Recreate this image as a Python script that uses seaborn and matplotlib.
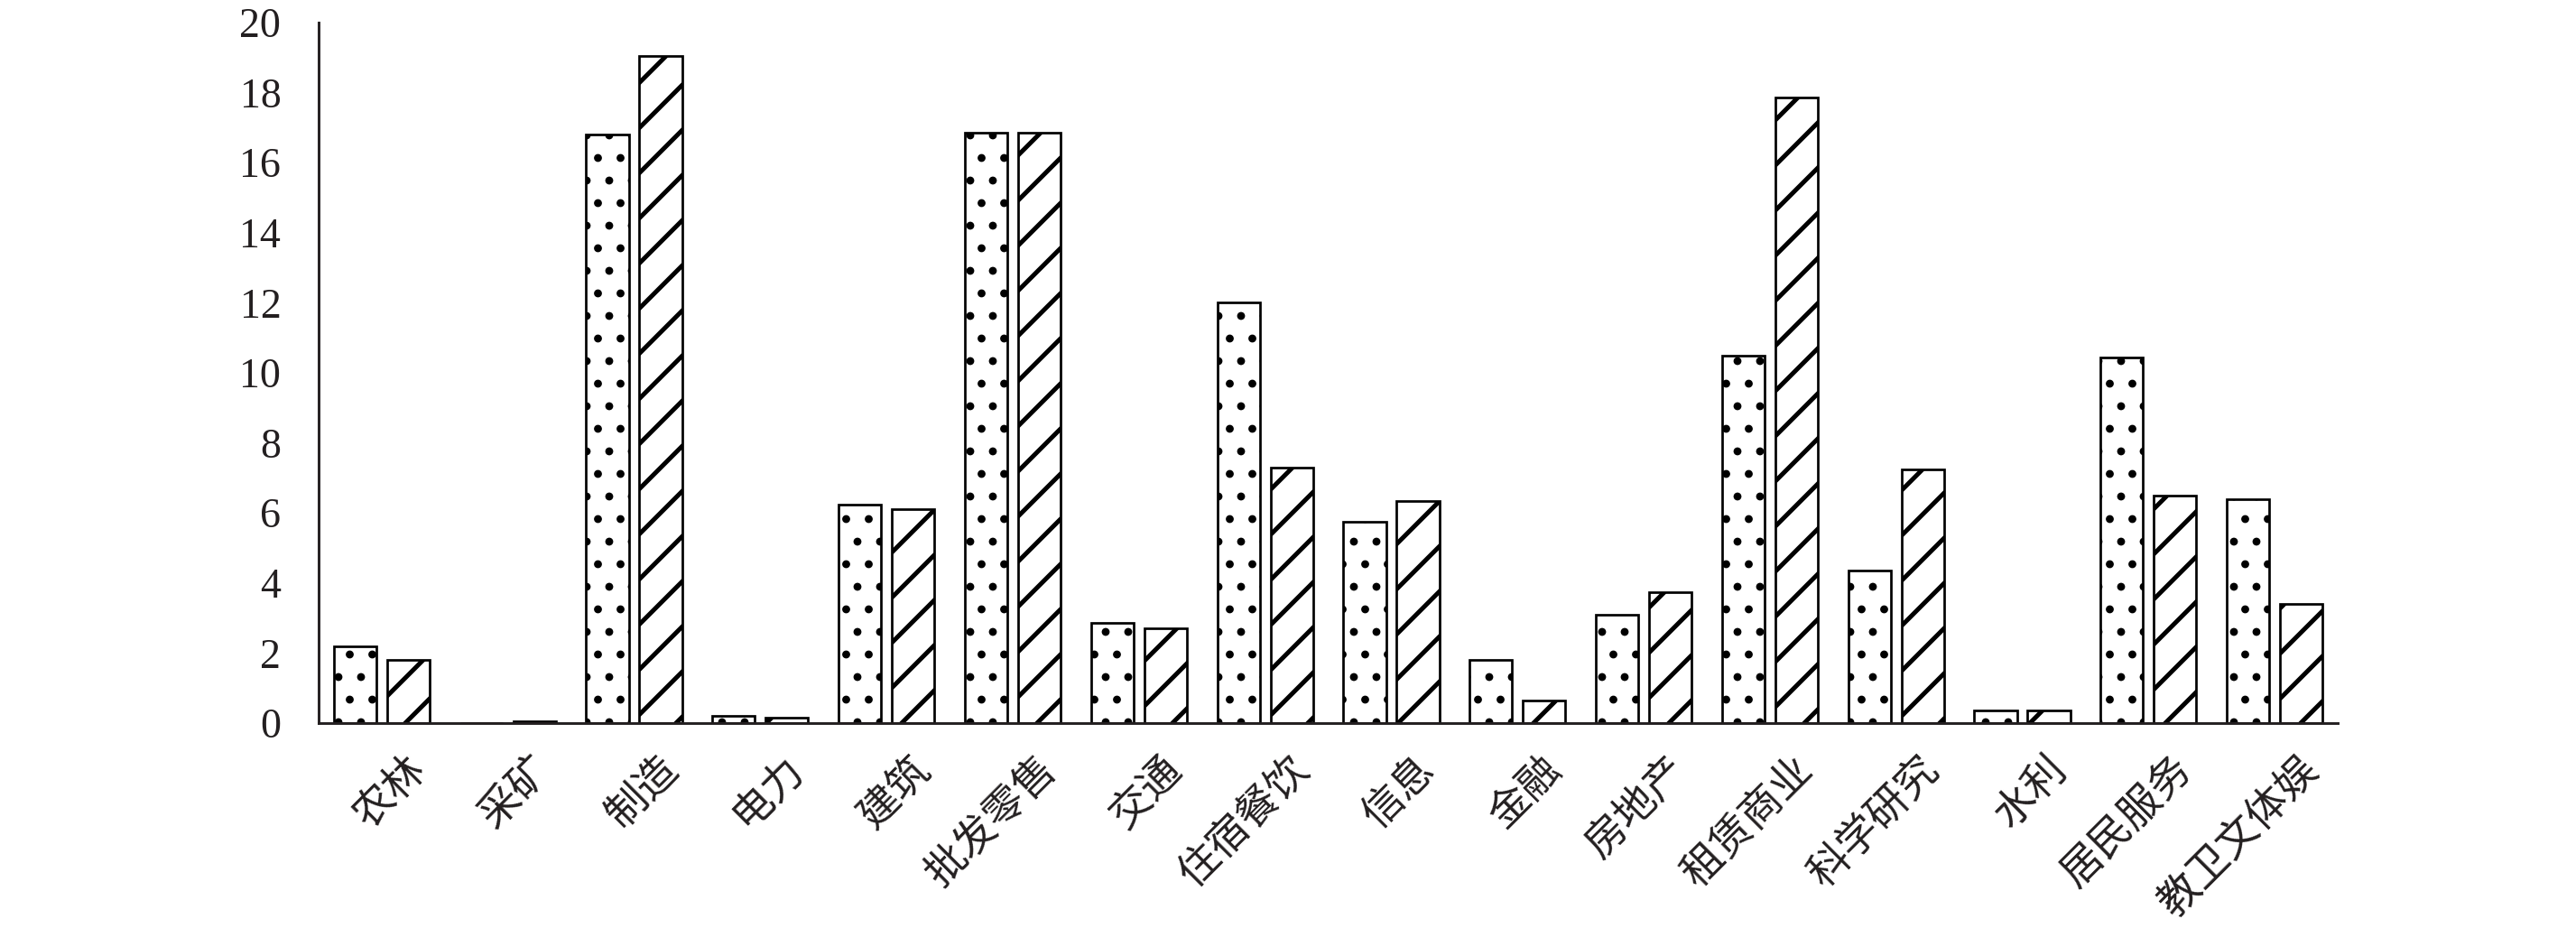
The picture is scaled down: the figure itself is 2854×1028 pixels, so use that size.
import numpy as np
import pandas as pd
import matplotlib
matplotlib.use('Agg')
import matplotlib.pyplot as plt
import matplotlib.transforms as mtransforms
import seaborn as sns

# Data
industries = ['农林', '采矿', '制造', '电力', '建筑', '批发零售', '交通', '住宿餐饮',
              '信息', '金融', '房地产', '租赁商业', '科学研究', '水利', '居民服务', '教卫文体娱']
series_a = [2.2, 0.0, 16.8, 0.2, 6.25, 16.85, 2.85, 12.0, 5.75, 1.8, 3.1, 10.5, 4.35, 0.35, 10.45, 6.4]
series_b = [1.8, 0.05, 19.05, 0.15, 6.1, 16.85, 2.7, 7.3, 6.35, 0.65, 3.75, 17.85, 7.25, 0.35, 6.5, 3.4]
series_names = ['A', 'B']
y_ticks = [0, 2, 4, 6, 8, 10, 12, 14, 16, 18, 20]

DPI = 150
INK = '#231f20'

sns.set_style('white')
plt.rcParams['font.family'] = ['Liberation Serif', 'Noto Sans CJK SC', 'DejaVu Sans']
plt.rcParams['hatch.linewidth'] = 1.8
plt.rcParams['hatch.color'] = 'black'

df = pd.DataFrame({
    'industry': industries * 2,
    'series': [series_names[0]] * len(industries) + [series_names[1]] * len(industries),
    'value': series_a + series_b,
})

fig = plt.figure(figsize=(2854 / DPI, 1028 / DPI), dpi=DPI)
ax = fig.add_axes([0.1237, 0.2208, 0.7838, 0.7549])

sns.barplot(data=df, x='industry', y='value', hue='series', hue_order=series_names,
            order=industries, palette=['white', 'white'], saturation=1,
            width=0.844, gap=0.2, edgecolor='black', linewidth=1.3,
            errorbar=None, legend=False, ax=ax)

# hatch patterns: dotted for the first series, diagonal for the second
for cont, hatch, hlw in zip(ax.containers, ['.', '/'], [1.8, 2.4]):
    for bar in cont:
        bar.set_hatch(hatch)
        if hasattr(bar, 'set_hatch_linewidth'):
            bar.set_hatch_linewidth(hlw)

ax.set_xlim(-0.5, len(industries) - 0.5)
ax.set_ylim(0, 20)
ax.set_yticks(y_ticks)
ax.set_xlabel('')
ax.set_ylabel('')

for side in ['top', 'right']:
    ax.spines[side].set_visible(False)
for side in ['left', 'bottom']:
    ax.spines[side].set_linewidth(1.4)
    ax.spines[side].set_color(INK)

ax.tick_params(axis='y', direction='in', length=10, width=1.3, color=INK,
               pad=20, labelsize=22, labelcolor=INK)
ax.tick_params(axis='x', length=0, pad=13, labelsize=22, labelcolor=INK)

offset = mtransforms.ScaledTranslation(58 / DPI, 0, fig.dpi_scale_trans)
for lbl in ax.get_xticklabels():
    lbl.set_fontfamily(['Noto Sans CJK SC', 'DejaVu Sans'])
    lbl.set_rotation(45)
    lbl.set_ha('right')
    lbl.set_va('top')
    lbl.set_transform(lbl.get_transform() + offset)

fig.savefig('out.png', dpi=DPI, facecolor='white')
